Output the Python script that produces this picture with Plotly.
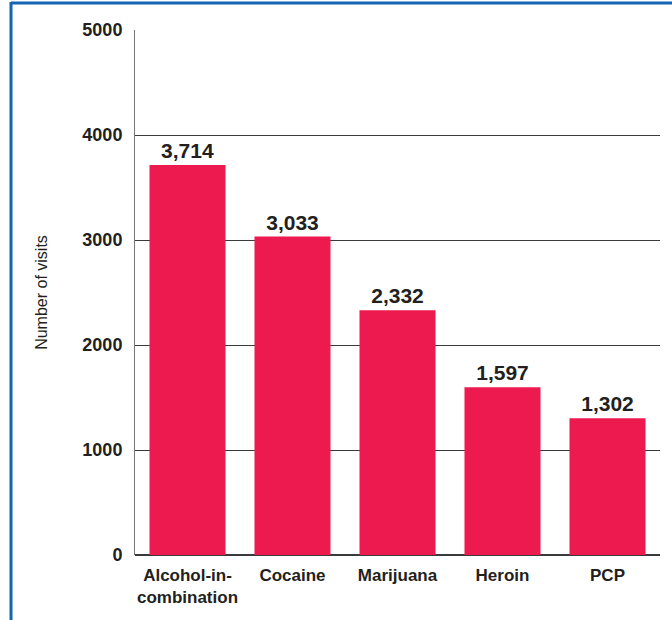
import plotly.graph_objects as go

categories = ["Alcohol-in-<br>combination", "Cocaine", "Marijuana", "Heroin", "PCP"]
visits = [3714, 3033, 2332, 1597, 1302]
value_labels = ["3,714", "3,033", "2,332", "1,597", "1,302"]
y_ticks = [0, 1000, 2000, 3000, 4000, 5000]

W, H = 672, 620
L, R, T, B = 135, 12, 30, 65
pw, ph = W - L - R, H - T - B

def px_x(p):
    return (p - L) / pw

def px_y(p):
    return 1 - (p - T) / ph

fig = go.Figure(go.Bar(
    x=categories, y=visits,
    marker=dict(color="#EC1A4F", line=dict(width=0)),
    text=value_labels, textposition="outside", cliponaxis=False,
    textfont=dict(family="Liberation Sans, Arial", size=21, color="#231F20", weight="bold"),
    hoverinfo="skip",
))

blue = "#1565B0"
fig.update_layout(
    width=W, height=H,
    margin=dict(l=L, r=R, t=T, b=B),
    paper_bgcolor="white", plot_bgcolor="white",
    bargap=0.276,
    showlegend=False,
    xaxis=dict(
        range=[-0.5, 4.5], showgrid=False, showline=False, ticks="",
        ticklabelstandoff=8,
        tickfont=dict(family="Liberation Sans, Arial", size=17, color="#231F20", weight="bold"),
        fixedrange=True,
    ),
    yaxis=dict(
        range=[0, 5000], tickvals=y_ticks, ticktext=[str(v) for v in y_ticks],
        showgrid=True, gridcolor="#3a3a3a", gridwidth=1,
        showline=True, linecolor="#777777", linewidth=1,
        zeroline=True, zerolinecolor="#3a3a3a", zerolinewidth=2,
        ticks="", ticklabelstandoff=8,
        tickfont=dict(family="Liberation Sans, Arial", size=18, color="#231F20", weight="bold"),
        title=dict(text="Number of visits", standoff=30,
                   font=dict(family="Liberation Sans, Arial", size=16, color="#231F20")),
        fixedrange=True,
    ),
    shapes=[
        dict(type="line", xref="paper", yref="paper",
             x0=px_x(11), x1=px_x(672), y0=px_y(3), y1=px_y(3),
             line=dict(color=blue, width=3)),
        dict(type="line", xref="paper", yref="paper",
             x0=px_x(11), x1=px_x(11), y0=px_y(2), y1=px_y(620),
             line=dict(color=blue, width=3)),
    ],
)

fig.write_html("out.html")
